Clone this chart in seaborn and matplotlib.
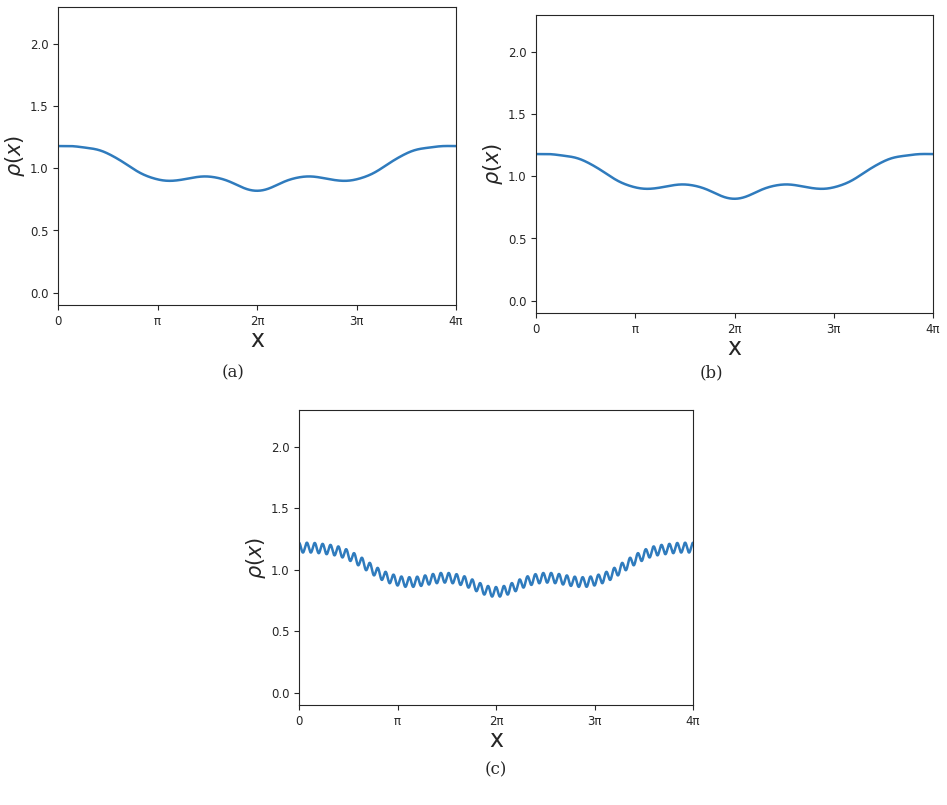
import numpy as np
import pandas as pd
import seaborn as sns
import matplotlib
matplotlib.use("Agg")
import matplotlib.pyplot as plt

sns.set_style("ticks")
plt.rcParams['font.family'] = ['DejaVu Sans']

# Density samples every pi/8 over [0, 4pi) (read from picture)
rho_samples = [1.18, 1.18, 1.17, 1.155, 1.12, 1.065, 1.00, 0.945, 0.912, 0.90, 0.91, 0.928,
               0.935, 0.92, 0.885, 0.84, 0.82, 0.84, 0.885, 0.92, 0.935, 0.928, 0.91, 0.90,
               0.912, 0.945, 1.00, 1.065, 1.12, 1.155, 1.17, 1.18]
ripple_amp = 0.04
ripple_count = 50
tick_labels = ["0", "π", "2π", "3π", "4π"]
ytick_vals = [0.0, 0.5, 1.0, 1.5, 2.0]

L = 4 * np.pi
N = len(rho_samples)
coef = np.fft.rfft(rho_samples)
x = np.linspace(0, L, 3000)
smooth = np.zeros_like(x) + coef[0].real / N
for kk in range(1, len(coef)):
    w = 1.0 if kk < N // 2 else 0.5
    smooth += w * 2 / N * (coef[kk] * np.exp(1j * 2 * np.pi * kk * x / L)).real
ripple = smooth + ripple_amp * np.cos(2 * np.pi * ripple_count * x / L)

fig = plt.figure(figsize=(9.47, 8.05), dpi=100)
W, H = 947, 805
def mk(l, r, t, b):
    return fig.add_axes([l / W, 1 - b / H, (r - l) / W, (b - t) / H])

axes = [mk(58, 456, 7, 305), mk(536, 933, 15, 313), mk(299, 693, 410, 705)]
data = [smooth, smooth, ripple]
for ax, y in zip(axes, data):
    sns.lineplot(x=x, y=y, ax=ax, color="#2f7bbd", linewidth=1.8)
    ax.set_xlim(0, L)
    ax.set_ylim(-0.1, 2.3)
    ax.set_xticks([i * np.pi for i in range(5)])
    ax.set_xticklabels(tick_labels, fontsize=8.5)
    ax.set_yticks(ytick_vals)
    ax.set_yticklabels([f"{v:.1f}" for v in ytick_vals], fontsize=8.5)
    ax.set_xlabel("x", fontsize=17, labelpad=0)
    ax.set_ylabel(r"$\rho(x)$", fontsize=15, labelpad=2)

for txt, (px, py) in zip(["(a)", "(b)", "(c)"], [(233, 373), (711, 373), (496, 770)]):
    fig.text(px / W, 1 - py / H, txt, ha="center", va="center", fontsize=12, family="serif")

fig.savefig("out.png", dpi=100)
